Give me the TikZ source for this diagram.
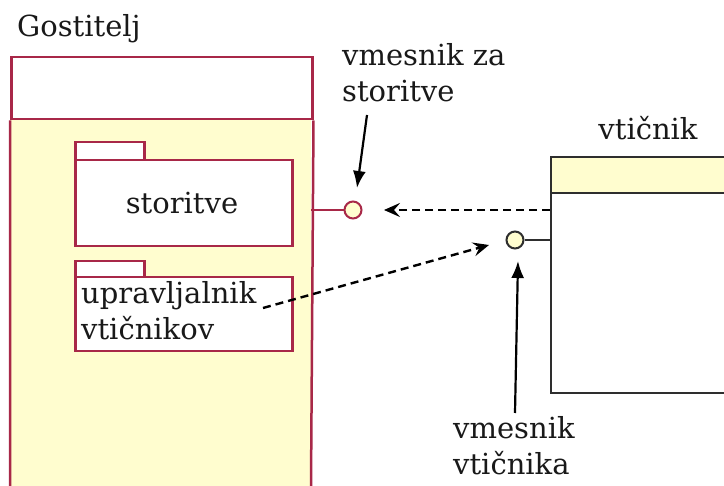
\documentclass[tikz,border=0pt]{standalone}
\usepackage{fontspec}
\setmainfont{DejaVu Serif}
\usetikzlibrary{arrows.meta}
\definecolor{umlred}{HTML}{A82848}
\definecolor{umlyel}{HTML}{FFFDCF}
\definecolor{umlgray}{HTML}{2E2E2E}
\tikzset{
  redbox/.style={draw=umlred, line width=2.5pt, inner sep=0pt, anchor=north west},
  blkbox/.style={draw=umlgray, line width=2.2pt, inner sep=0pt, anchor=north west},
  lbl/.style={font=\fontsize{29}{36}\selectfont, inner sep=0pt, align=left, text=black!90},
  port/.style={circle, line width=2pt, fill=umlyel, minimum size=17pt, inner sep=0pt},
  dep/.style={line width=2.4pt, dash pattern=on 8pt off 5pt, -{Stealth[length=16pt,width=14pt,inset=6pt]}},
  note/.style={line width=2.2pt, -{Latex[length=17pt,width=13pt]}}
}
\begin{document}
\begin{tikzpicture}[x=1pt,y=-1pt]
\useasboundingbox (0,0) rectangle (724,486);
\fill[white] (0,0) rectangle (724,486);
% Gostitelj
\fill[umlyel] (10,118) rectangle (311,486);
\node[redbox, fill=white, minimum width=301pt, minimum height=62pt] (hosthead) at (10,56) {};
\coordinate (hostbl) at (10,486);
\coordinate (hostbr) at (311,486);
\draw[umlred, line width=2.5pt] (hostbl) -- (hosthead.south west) (hosthead.south east) -- (hostbr);
\node[lbl, anchor=base west] (hostlbl) at (17,37) {Gostitelj};
% package storitve
\node[redbox, fill=white, minimum width=69pt, minimum height=18pt] (tab1) at (74,141) {};
\node[redbox, fill=white, minimum width=217pt, minimum height=86pt] (pkg1) at (74,159) {};
\node[lbl] (pkg1lbl) at (182,203) {storitve};
% package upravljalnik
\node[redbox, fill=white, minimum width=69pt, minimum height=16pt] (tab2) at (74,260) {};
\node[redbox, fill=white, minimum width=217pt, minimum height=74pt] (pkg2) at (74,276) {};
\node[lbl, anchor=base west] (pkg2lbl) at (81,340) {upravljalnik\\vtičnikov};
\coordinate (depstart) at (263,308);
% vticnik
\node[blkbox, fill=umlyel, minimum width=200pt, minimum height=36pt] (plughead) at (550,156) {};
\node[blkbox, fill=white, minimum width=200pt, minimum height=200pt] (plugbody) at (550,192) {};
\node[lbl, anchor=base] (pluglbl) at (648,140) {vtičnik};
% ports
\node[port, draw=umlred] (p1) at (353,210) {};
\node[port, draw=umlgray] (p2) at (515,240) {};
\draw[umlred, line width=2pt] (p1.west) -- (311,210);
\draw[umlgray, line width=2pt] (p2.east) -- (550,240);
% dependencies
\draw[dep] (550,210) -- (384,210);
\draw[dep] (depstart) -- (489,245);
% notes
\node[lbl, anchor=base west] (n1) at (342,102) {vmesnik za\\storitve};
\node[lbl, anchor=base west] (n2) at (453,475) {vmesnik\\vtičnika};
\draw[note] (367,115) -- (357,188);
\draw[note] (515,413) -- (518,261);
\end{tikzpicture}
\end{document}
